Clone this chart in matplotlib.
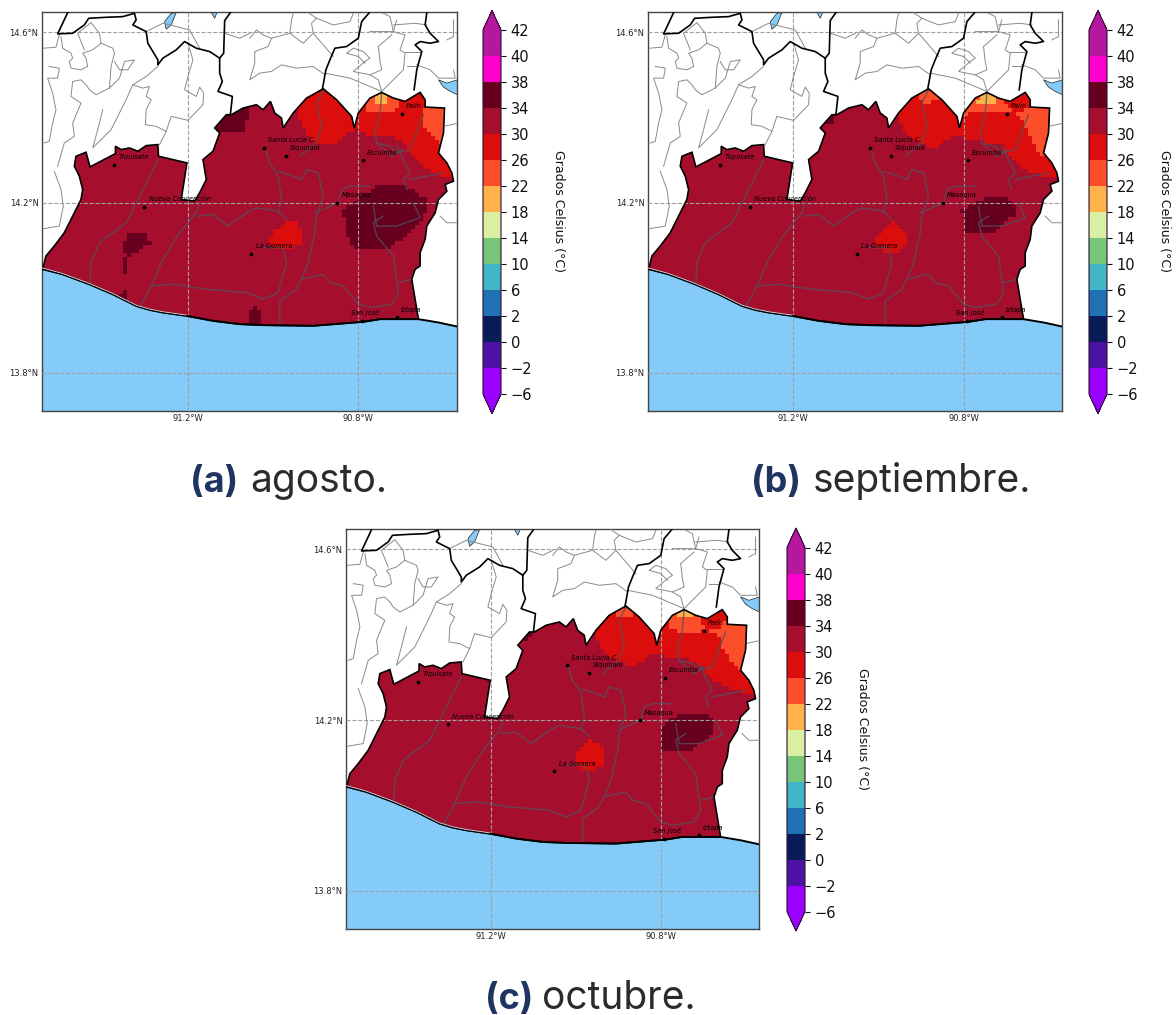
import numpy as np
import matplotlib
matplotlib.use('Agg')
import matplotlib.pyplot as plt
from matplotlib.cm import ScalarMappable
from matplotlib.colors import BoundaryNorm, ListedColormap
from matplotlib.patches import Polygon
from matplotlib.path import Path

# levels and colours of the scale
levels = [-6, -2, 0, 2, 6, 10, 14, 18, 22, 26, 30, 34, 38, 40, 42]
colors = ['#9a00ff', '#4b12a3', '#081d58', '#2171b5', '#41b6c4', '#78c679', '#d9f0a3',
          '#feb24c', '#fc4e2a', '#dc0d0d', '#a50f2d', '#67001f', '#ff00cc', '#b5179e']
months = ['agosto.', 'septiembre.', 'octubre.']
tags = ['(a)', '(b)', '(c)']
base_temp = 32

region = [(40, 810), (50, 770), (75, 740), (105, 700), (130, 650), (155, 600), (160, 570), (150, 530), (135, 500),
          (140, 470), (170, 458), (182, 502), (258, 462), (258, 440), (275, 450), (300, 445), (325, 455), (350, 438),
          (385, 435), (387, 470), (472, 490), (455, 600), (495, 605), (510, 580), (530, 540), (520, 480), (550, 455),
          (570, 400), (555, 385), (590, 345), (605, 345), (640, 325), (680, 315), (700, 330), (722, 305), (735, 340),
          (755, 355), (760, 385), (790, 340), (830, 295), (880, 267), (920, 300), (965, 350), (973, 385), (985, 340),
          (1020, 295), (1055, 278), (1090, 295), (1125, 305), (1150, 290), (1170, 278), (1185, 300), (1185, 322),
          (1243, 325), (1240, 400), (1225, 460), (1250, 490), (1265, 520), (1270, 545), (1245, 555), (1250, 575),
          (1225, 600), (1215, 640), (1190, 680), (1185, 720), (1170, 760), (1170, 800), (1155, 810), (1145, 840),
          (1155, 900), (1165, 960), (1050, 960), (1000, 968), (950, 972), (850, 980), (700, 978), (630, 975),
          (550, 965), (470, 950), (400, 940), (360, 932), (320, 920), (290, 905), (250, 885), (180, 855), (100, 825)]
coast = [(38, 808), (100, 825), (180, 855), (250, 885), (290, 905), (320, 920), (360, 932), (400, 940), (470, 950),
         (550, 965), (630, 975), (700, 978), (850, 980), (950, 972), (1000, 968), (1050, 960), (1165, 960),
         (1225, 970), (1280, 982)]
lakes = [[(405, 65), (425, 40), (440, 38), (425, 75), (410, 88)],
         [(545, 38), (562, 38), (555, 55)],
         [(1225, 240), (1250, 250), (1282, 240), (1282, 285), (1260, 275), (1240, 262)]]
dept_lines = [[(115, 38), (85, 102), (130, 100), (165, 75), (178, 55), (230, 52), (280, 50), (315, 40), (320, 60),
               (310, 75), (350, 95), (355, 130), (385, 180), (385, 195), (400, 175), (440, 150), (465, 125),
               (500, 145), (540, 155), (570, 175), (570, 220), (578, 245), (565, 275), (608, 290), (602, 345)],
              [(602, 38), (585, 62), (582, 160), (570, 175)],
              [(1018, 38), (995, 65), (985, 115), (950, 140), (915, 145), (900, 180), (888, 210), (878, 265)],
              [(1190, 38), (1185, 75), (1200, 100), (1225, 125), (1200, 130), (1170, 125), (1155, 135), (1175, 155),
               (1160, 210), (1152, 270)]]
muni_lines = [[(42, 145), (80, 142), (90, 105)],
              [(95, 110), (100, 145), (125, 160), (130, 175), (120, 185), (125, 205), (155, 210), (175, 200),
               (170, 175), (160, 160), (190, 150), (215, 130), (210, 100), (185, 68), (145, 100), (165, 150)],
              [(215, 130), (250, 145), (255, 160), (245, 200), (240, 265), (200, 285), (180, 270), (170, 255),
               (155, 240), (130, 245), (125, 290), (155, 310), (130, 370), (135, 410), (105, 430), (85, 500)],
              [(240, 265), (270, 235), (285, 185), (315, 180), (295, 210), (270, 210), (255, 185)],
              [(385, 200), (350, 230), (310, 255), (290, 300), (270, 340), (245, 390), (210, 425), (190, 445),
               (205, 390), (220, 330)],
              [(310, 255), (340, 265), (360, 260), (350, 290), (365, 300), (350, 330), (348, 375), (380, 380),
               (410, 395), (390, 435)],
              [(475, 130), (490, 180), (475, 230), (465, 270), (500, 290), (510, 262), (522, 280), (520, 315),
               (475, 362), (425, 350), (410, 395)],
              [(60, 200), (90, 205), (85, 235), (55, 235), (70, 280), (80, 330), (70, 370), (60, 425), (45, 430)],
              [(350, 95), (400, 70), (480, 90), (510, 145)],
              [(585, 100), (630, 115), (660, 100)],
              [(75, 515), (95, 570), (102, 620), (90, 680), (42, 688)],
              [(660, 115), (680, 90), (700, 105), (725, 115), (780, 100), (785, 60), (790, 40)],
              [(725, 115), (715, 140), (675, 155), (675, 190), (660, 240), (690, 220), (725, 215), (755, 195),
               (800, 205), (850, 200), (885, 225)],
              [(780, 100), (820, 130), (850, 100), (845, 70), (860, 55), (835, 38)],
              [(850, 100), (910, 170)], [(860, 55), (910, 75), (960, 65), (970, 40)],
              [(885, 220), (960, 235), (1055, 275), (1045, 240), (1020, 225), (970, 215), (1005, 185), (1020, 175),
               (1000, 155), (970, 145), (950, 160), (985, 170), (1005, 190)],
              [(1055, 275), (1120, 210), (1125, 160), (1110, 150), (1125, 105), (1090, 95), (1080, 50), (1060, 40)],
              [(1020, 95), (1090, 95), (1100, 60)], [(1045, 140), (1085, 105)],
              [(1045, 140), (1050, 185), (1055, 210), (1020, 225)],
              [(1125, 155), (1170, 155)], [(1130, 200), (1160, 200)],
              [(1160, 195), (1200, 210), (1225, 235), (1275, 235), (1270, 210)],
              [(1090, 75), (1155, 70), (1190, 75)], [(1250, 120), (1270, 110), (1270, 60)],
              [(1240, 380), (1278, 372)], [(1230, 650), (1250, 670), (1278, 670)]]
inner_lines = [[(385, 480), (345, 560), (310, 630), (290, 670), (210, 730), (185, 790), (182, 850)],
               [(510, 610), (500, 640), (450, 700), (400, 780), (365, 860), (330, 925)],
               [(505, 650), (550, 645), (595, 680), (650, 640), (680, 625), (745, 635), (770, 660)],
               [(365, 860), (430, 855), (530, 870), (650, 880), (700, 900), (745, 880), (770, 790), (760, 745),
                (700, 745)],
               [(705, 445), (720, 490), (745, 530), (755, 600), (745, 640)],
               [(745, 515), (790, 530), (815, 540), (830, 510), (865, 520), (880, 590), (860, 650), (855, 700),
                (835, 790), (815, 840), (800, 870), (750, 905), (750, 975)],
               [(855, 640), (925, 610), (935, 570), (960, 560), (1020, 560)],
               [(815, 840), (880, 825), (900, 850), (940, 860), (985, 915), (1020, 925), (1085, 915), (1105, 880),
                (1090, 770), (1040, 710), (1030, 670), (1060, 650)],
               [(1105, 850), (1145, 840)],
               [(1030, 620), (1040, 680), (1100, 680), (1170, 655), (1150, 610)],
               [(810, 470), (860, 430), (875, 380), (860, 310), (880, 270)],
               [(1055, 280), (1050, 340), (1035, 400), (1040, 430), (1080, 440), (1100, 460), (1140, 450),
                (1170, 370), (1180, 345)],
               [(1100, 440), (1140, 520), (1120, 540), (1130, 570)], [(1140, 540), (1240, 520)],
               [(1115, 450), (1085, 470), (1040, 430)]]
towns = ['Tiquisate', 'Nueva Concepción', 'Santa Lucía C.', 'Siquinalá', 'Escuintla', 'Masagua', 'La Gomera',
         'San José', 'Iztapa', 'Palín']
town_points = [(255, 495), (345, 622), (703, 445), (768, 468), (998, 482), (922, 610), (665, 763), (995, 965),
               (1100, 955), (1115, 342)]

# temperature areas for each month, value then outline
agosto = [(36, [(555, 400), (640, 400), (645, 370), (660, 350), (660, 320), (600, 330), (545, 370)]),
          (36, [(290, 720), (300, 705), (355, 705), (365, 740), (340, 745), (305, 770), (290, 780), (290, 820),
                (275, 820), (275, 785), (290, 765), (275, 750)]),
          (36, [(265, 880), (290, 875), (290, 910), (265, 900)]),
          (36, [(660, 940), (675, 925), (695, 940), (695, 985), (660, 985)]),
          (36, [(940, 630), (1025, 570), (1050, 552), (1120, 552), (1190, 600), (1195, 630), (1170, 670), (1140, 700),
                (1090, 740), (1050, 755), (975, 750), (950, 700)]),
          (28, [(720, 720), (730, 700), (770, 665), (800, 670), (812, 700), (815, 740), (790, 745), (735, 745),
                (722, 735)]),
          (28, [(805, 340), (805, 290), (880, 250), (935, 285), (990, 360), (965, 395), (915, 435), (860, 435),
                (830, 400), (810, 370)]),
          (28, [(965, 385), (965, 300), (1050, 260), (1180, 260), (1200, 315), (1255, 315), (1285, 520), (1240, 530),
                (1180, 500), (1140, 460), (1115, 420), (1060, 405), (1030, 410)]),
          (24, [(1185, 330), (1255, 315), (1250, 440), (1225, 430), (1195, 400), (1185, 390)]),
          (24, [(1015, 335), (1000, 300), (1055, 265), (1110, 300), (1095, 335), (1030, 335)]),
          (20, [(1030, 305), (1040, 270), (1075, 270), (1075, 300), (1060, 312), (1040, 312)])]
septiembre = [(36, [(567, 370), (592, 370), (597, 340), (577, 345), (555, 365)]),
              (36, [(977, 630), (1022, 610), (1052, 590), (1117, 590), (1142, 620), (1142, 645), (1102, 675),
                    (1072, 705), (987, 705)]),
              (28, [(717, 725), (730, 705), (772, 670), (800, 685), (812, 705), (807, 755), (742, 760), (722, 745)]),
              (28, [(792, 370), (800, 290), (877, 250), (940, 290), (990, 380), (942, 420), (892, 450), (822, 415)]),
              (28, [(962, 370), (962, 300), (1052, 260), (1172, 260), (1255, 315), (1280, 540), (1227, 530),
                    (1152, 500), (1112, 455), (1102, 440), (1032, 425), (962, 410)]),
              (24, [(850, 285), (860, 260), (900, 260), (907, 290), (907, 300), (882, 310), (850, 302)]),
              (24, [(977, 345), (1000, 295), (1052, 262), (1097, 300), (1142, 335), (1250, 315), (1250, 380),
                    (1227, 470), (1207, 450), (1182, 405), (1167, 375), (1152, 345), (1112, 335), (1012, 340)]),
              (20, [(1027, 310), (1030, 270), (1075, 270), (1082, 310)])]
octubre = [(36, [(574, 372), (599, 362), (604, 337), (579, 345), (558, 368)]),
           (36, [(984, 637), (1024, 602), (1059, 590), (1119, 590), (1144, 617), (1144, 642), (1109, 677),
                 (1074, 702), (989, 702)]),
           (28, [(724, 720), (735, 700), (769, 667), (800, 680), (814, 700), (814, 750), (790, 757), (744, 757),
                 (728, 745)]),
           (28, [(789, 362), (800, 290), (879, 250), (945, 290), (985, 377), (944, 427), (894, 452), (824, 417)]),
           (28, [(964, 362), (964, 300), (1059, 260), (1184, 260), (1255, 315), (1285, 537), (1234, 527),
                 (1154, 497), (1109, 447), (1054, 422), (964, 412)]),
           (24, [(854, 287), (860, 260), (900, 260), (909, 292), (879, 307), (854, 292)]),
           (24, [(1009, 332), (1005, 300), (1059, 262), (1105, 300), (1114, 332), (1164, 337), (1174, 317),
                 (1255, 315), (1239, 477), (1219, 457), (1194, 427), (1174, 397), (1164, 362), (1124, 337),
                 (1084, 347), (1044, 347)]),
           (20, [(1029, 305), (1032, 270), (1080, 270), (1084, 305)])]
month_areas = [agosto, septiembre, octubre]

W, H = 1176, 1015
LON_MIN, LON_MAX = -91.541, -90.569
LAT_MIN, LAT_MAX = 13.710, 14.648
NAVY = '#1f3460'


def deg(points):
    pts = np.array(points, dtype=float)
    return np.column_stack([-91.2 + (pts[:, 0] - 474) / 1278, 14.6 - (pts[:, 1] - 97.5) / 1279.5])


def box(left, top, right, bottom):
    return [left / W, 1 - bottom / H, (right - left) / W, (bottom - top) / H]


cmap = ListedColormap(colors)
cmap.set_under(colors[0])
cmap.set_over(colors[-1])
norm = BoundaryNorm(levels, cmap.N)

lon_edges = np.arange(LON_MIN, LON_MAX + 0.0095, 0.0095)
lat_edges = np.arange(LAT_MIN, LAT_MAX + 0.0095, 0.0095)
lon_mid, lat_mid = np.meshgrid(lon_edges[:-1] + 0.00475, lat_edges[:-1] + 0.00475)
cells = np.column_stack([lon_mid.ravel(), lat_mid.ravel()])

fig = plt.figure(figsize=(W / 100, H / 100), dpi=100)

# panels: axes box, colorbar box, x of the colorbar title, caption x and baseline
panels = [((42, 12, 457, 411), (483, 10.5, 501, 413.5), 559, 190, 250, 492),
          ((648, 12, 1062, 411), (1089, 10.5, 1107, 413.5), 1164, 751, 813, 492),
          ((346, 529, 759, 929), (787, 528, 805, 931), 862, 485, 542, 1009)]

for i, (ax_box, bar_box, title_x, tag_x, name_x, base_y) in enumerate(panels):
    ax = fig.add_axes(box(*ax_box))

    field = np.full(lon_mid.shape, float(base_temp))
    for value, outline in month_areas[i]:
        inside = Path(deg(outline)).contains_points(cells).reshape(lon_mid.shape)
        field[inside] = value
    mesh = ax.pcolormesh(lon_edges, lat_edges, field, cmap=cmap, norm=norm, antialiased=False, zorder=1)
    mesh.set_clip_path(Polygon(deg(region), transform=ax.transData))

    ocean = deg(coast)
    ocean = np.vstack([ocean, [[LON_MAX + 0.01, ocean[-1, 1]], [LON_MAX + 0.01, LAT_MIN - 0.01],
                               [LON_MIN - 0.01, LAT_MIN - 0.01], [LON_MIN - 0.01, ocean[0, 1]]]])
    ax.add_patch(Polygon(ocean, facecolor='#84cbfa', edgecolor='none', zorder=2))
    for lake in lakes:
        ax.add_patch(Polygon(deg(lake), facecolor='#84cbfa', edgecolor='#222222', lw=0.5, zorder=2))

    for line in muni_lines:
        xy = deg(line)
        ax.plot(xy[:, 0], xy[:, 1], color='#8a8a8a', lw=0.7, zorder=3)
    for line in inner_lines:
        xy = deg(line)
        ax.plot(xy[:, 0], xy[:, 1], color='#55505a', lw=1.0, alpha=0.8, zorder=3)

    ax.add_patch(Polygon(deg(region), fill=False, edgecolor='black', lw=1.2, zorder=4))
    for line in dept_lines:
        xy = deg(line)
        ax.plot(xy[:, 0], xy[:, 1], color='black', lw=1.2, zorder=4)
    xy = deg(coast)
    ax.plot(xy[:, 0], xy[:, 1], color='black', lw=1.4, zorder=5)
    # pale sliver that runs along the western coast
    ax.plot(xy[:9, 0], xy[:9, 1] + 0.0018, color='#e8e4f0', lw=0.6, zorder=5)

    ax.set_xlim(LON_MIN, LON_MAX)
    ax.set_ylim(LAT_MIN, LAT_MAX)
    ax.set_xticks([-91.2, -90.8], ['91.2°W', '90.8°W'])
    ax.set_yticks([13.8, 14.2, 14.6], ['13.8°N', '14.2°N', '14.6°N'])
    ax.tick_params(length=0, labelsize=6, pad=2.5, colors='#222222')
    ax.grid(True, color='#a0a0a0', ls='--', lw=0.8, zorder=6)
    ax.set_axisbelow(False)
    for spine in ax.spines.values():
        spine.set_color('#444444')
        spine.set_linewidth(1.0)

    xy = deg(town_points)
    ax.scatter(xy[:, 0], xy[:, 1], s=3, color='black', zorder=7)
    for name, (lon, lat) in zip(towns, xy):
        dx, dy = (-8, 4) if name == 'San José' else (3, 4)
        ax.annotate(name, (lon, lat), xytext=(dx, dy), textcoords='offset points', fontsize=4.8,
                    style='italic', color='black', zorder=8)

    cax = fig.add_axes(box(*bar_box))
    bar = fig.colorbar(ScalarMappable(norm=norm, cmap=cmap), cax=cax, extend='both', ticks=levels,
                       spacing='uniform', extendfrac=19.5 / 364)
    bar.ax.tick_params(labelsize=10.5, length=3.5, width=0.8, colors='#111111')
    bar.outline.set_linewidth(0.8)
    bar.outline.set_edgecolor('#2a1030')
    fig.text(title_x / W, 1 - (bar_box[1] + 201) / H, 'Grados Celsius (°C)', rotation=270, fontsize=9,
             ha='center', va='center', color='#111111')

    fig.text(tag_x / W, 1 - base_y / H, tags[i], fontsize=26, fontweight='bold', family='Inter', color=NAVY,
             ha='left', va='baseline')
    fig.text(name_x / W, 1 - base_y / H, months[i], fontsize=28, family='Inter', color='#2b2b2b',
             ha='left', va='baseline')

fig.savefig('out.png', dpi=100)
